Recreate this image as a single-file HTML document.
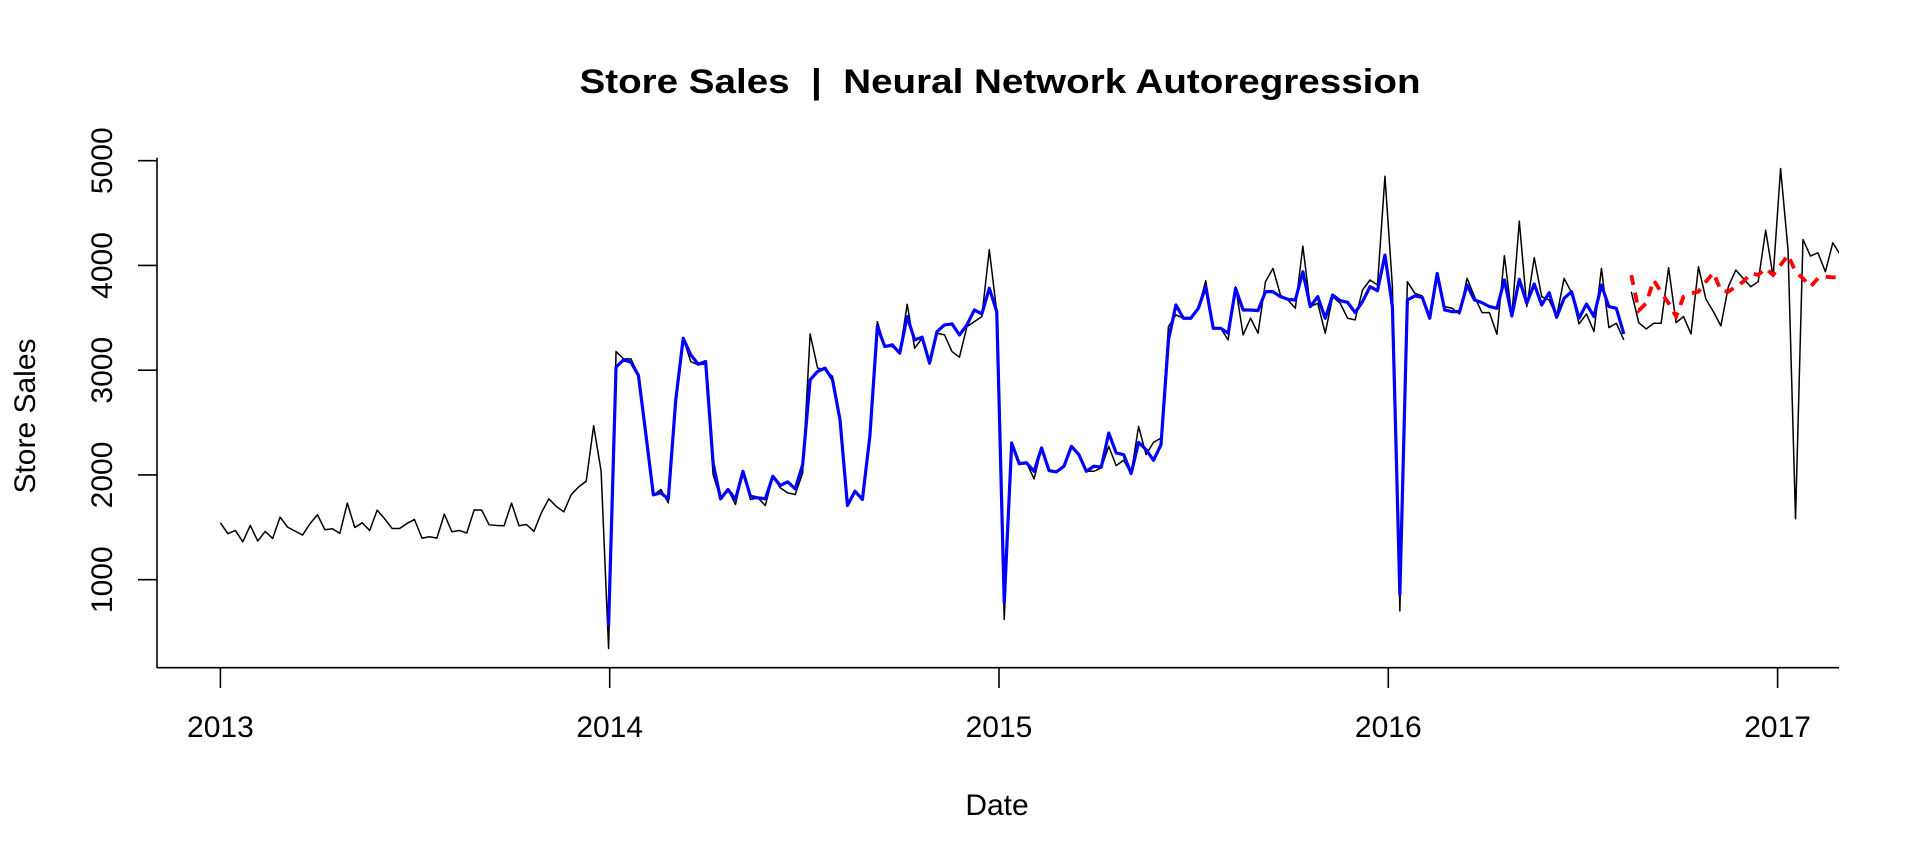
<!DOCTYPE html>
<html><head><meta charset="utf-8"><style>
html,body{margin:0;padding:0;background:#fff;}
svg{display:block;font-family:"Liberation Sans",Arial,sans-serif;}
</style></head><body>
<svg id="chart" width="1920" height="864" viewBox="0 0 1920 864" xmlns="http://www.w3.org/2000/svg">
<defs><clipPath id="plotclip"><rect x="157" y="120" width="1682" height="560"/></clipPath></defs>
<text x="1000" y="93" text-anchor="middle" font-weight="bold" font-size="34" textLength="841" lengthAdjust="spacingAndGlyphs">Store Sales&#160;&#160;|&#160;&#160;Neural Network Autoregression</text>
<text x="997" y="815" text-anchor="middle" font-size="30">Date</text>
<text transform="translate(35,416) rotate(-90)" text-anchor="middle" font-size="30">Store Sales</text>
<g id="axes"></g>
<g id="series" clip-path="url(#plotclip)"></g>
</svg>
<script>
const xTicks = [2013, 2014, 2015, 2016, 2017];
const yTicks = [1000, 2000, 3000, 4000, 5000];
const startYear = 2013;
const freq = 52.15;
const actualTrain = [1543,1439,1470,1362,1518,1369,1461,1394,1597,1502,1464,1426,1534,1620,1477,1486,1442,1731,1499,1543,1470,1664,1582,1489,1489,1537,1575,1397,1410,1397,1626,1458,1470,1445,1667,1664,1524,1518,1515,1731,1515,1527,1461,1639,1772,1699,1648,1813,1886,1940,2470,2036,
343,3178,3108,3108,2956,2385,1804,1861,1734,2718,3305,3083,3051,3061,2004,1772,1861,1718,2035,1766,1781,1708,1988,1877,1829,1813,2019,3347,3020,3004,2940,2559,1718,1845,1766,2369,3464,3226,3226,3162,3629,3210,3305,3067,3353,3337,3178,3124,3416,3464,3512,4150,3559,
622,2305,2099,2115,1962,2258,2042,2029,2083,2273,2194,2035,2035,2067,2273,2089,2140,2013,2464,2194,2311,2353,3416,3528,3496,3496,3591,3854,3400,3400,3289,3797,3337,3496,3353,3845,3972,3718,3670,3591,4185,3607,3639,3353,3702,3639,3496,3480,3766,3861,3813,4851,3797,
701,3845,3734,3709,3496,3924,3607,3591,3537,3877,3702,3550,3550,3343,4093,3518,4423,3607,4074,3702,3670,3512,3877,3740,3442,3537,3369,3972,3407,3448,3289];
const actualTestStart = 189;
const actualTest = [3750,3454,3394,3448,3448,3978,3454,3512,3346,3988,3677,3559,3423,3797,3956,3877,3797,3845,4337,3893,4925,4147,1581,4248,4090,4121,3940,4217,4100];
const fittedStart = 52;
const fitted = [559,3029,3099,3077,2950,2385,1810,1829,1772,2718,3305,3147,3058,3083,2115,1772,1861,1766,2035,1797,1781,1772,1988,1899,1934,1867,2099,2908,2988,3020,2908,2527,1708,1845,1766,2369,3416,3226,3242,3162,3512,3289,3315,3067,3369,3432,3442,3337,3432,3575,3537,3782,3559,
781,2305,2108,2115,2035,2258,2042,2029,2083,2273,2194,2035,2083,2075,2400,2210,2194,2013,2311,2242,2140,2289,3289,3623,3496,3496,3591,3797,3400,3400,3353,3781,3575,3575,3569,3750,3750,3702,3677,3670,3940,3607,3702,3496,3718,3664,3648,3550,3655,3797,3759,4099,3607,
860,3670,3709,3696,3496,3924,3575,3559,3559,3813,3670,3645,3607,3591,3861,3518,3867,3639,3823,3623,3740,3505,3686,3750,3496,3632,3512,3813,3607,3591,3346];
const forecastStart = 189;
const forecast = [3908,3570,3640,3860,3745,3639,3512,3702,3734,3750,3845,3931,3760,3750,3797,3845,3924,3909,3972,3909,4004,4099,3940,3877,3797,3877,3893,3886,3890];

const NS = 'http://www.w3.org/2000/svg';
const X0 = 220.4, PXY = 389.3;
const Y5000 = 160.7, PXV = 0.10475;
function xScale(t){ return X0 + (t - startYear) * PXY; }
function yScale(v){ return Y5000 + (5000 - v) * PXV; }
function tOf(i){ return startYear + i / freq; }
function mk(tag, attrs){ const e = document.createElementNS(NS, tag); for (const k in attrs) e.setAttribute(k, attrs[k]); return e; }

const axes = document.getElementById('axes');
const series = document.getElementById('series');

const yAxis = mk('line', {x1:157, y1:157.7, x2:157, y2:668, stroke:'#000', 'stroke-width':1.6});


axes.appendChild(yAxis);
const xAxis = mk('line', {x1:157, y1:667.7, x2:1839, y2:667.7, stroke:'#000', 'stroke-width':1.6});


axes.appendChild(xAxis);

yTicks.forEach(v => {
  const y = yScale(v);
  const tk = mk('line', {x1:138, y1:y, x2:157, y2:y, stroke:'#000', 'stroke-width':1.6});
  
  
  axes.appendChild(tk);
  const lb = mk('text', {transform:'translate(112,'+y+') rotate(-90)', 'text-anchor':'middle', 'font-size':30});
  lb.textContent = String(v);
  
  
  axes.appendChild(lb);
});
xTicks.forEach(t => {
  const x = xScale(t);
  const tk = mk('line', {x1:x, y1:667.7, x2:x, y2:688, stroke:'#000', 'stroke-width':1.6});
  
  
  axes.appendChild(tk);
  const lb = mk('text', {x:x, y:737, 'text-anchor':'middle', 'font-size':30});
  lb.textContent = String(t);
  
  
  axes.appendChild(lb);
});

function pts(arr, start){ return arr.map((v,k) => xScale(tOf(start+k)).toFixed(2)+','+yScale(v).toFixed(2)).join(' '); }

const l1 = mk('polyline', {points:pts(actualTrain,0), fill:'none', stroke:'#000', 'stroke-width':1.5, 'stroke-linejoin':'round'});


series.appendChild(l1);
const l2 = mk('polyline', {points:pts(actualTest,actualTestStart), fill:'none', stroke:'#000', 'stroke-width':1.5, 'stroke-linejoin':'round'});


series.appendChild(l2);
const l3 = mk('polyline', {points:pts(fitted,fittedStart), fill:'none', stroke:'#0000ff', 'stroke-width':3.2, 'stroke-linejoin':'round'});


series.appendChild(l3);
const l4 = mk('polyline', {points:pts(forecast,forecastStart), fill:'none', stroke:'#ff0000', 'stroke-width':3.8, 'stroke-dasharray':'10,8'});


series.appendChild(l4);
</script>
</body></html>
